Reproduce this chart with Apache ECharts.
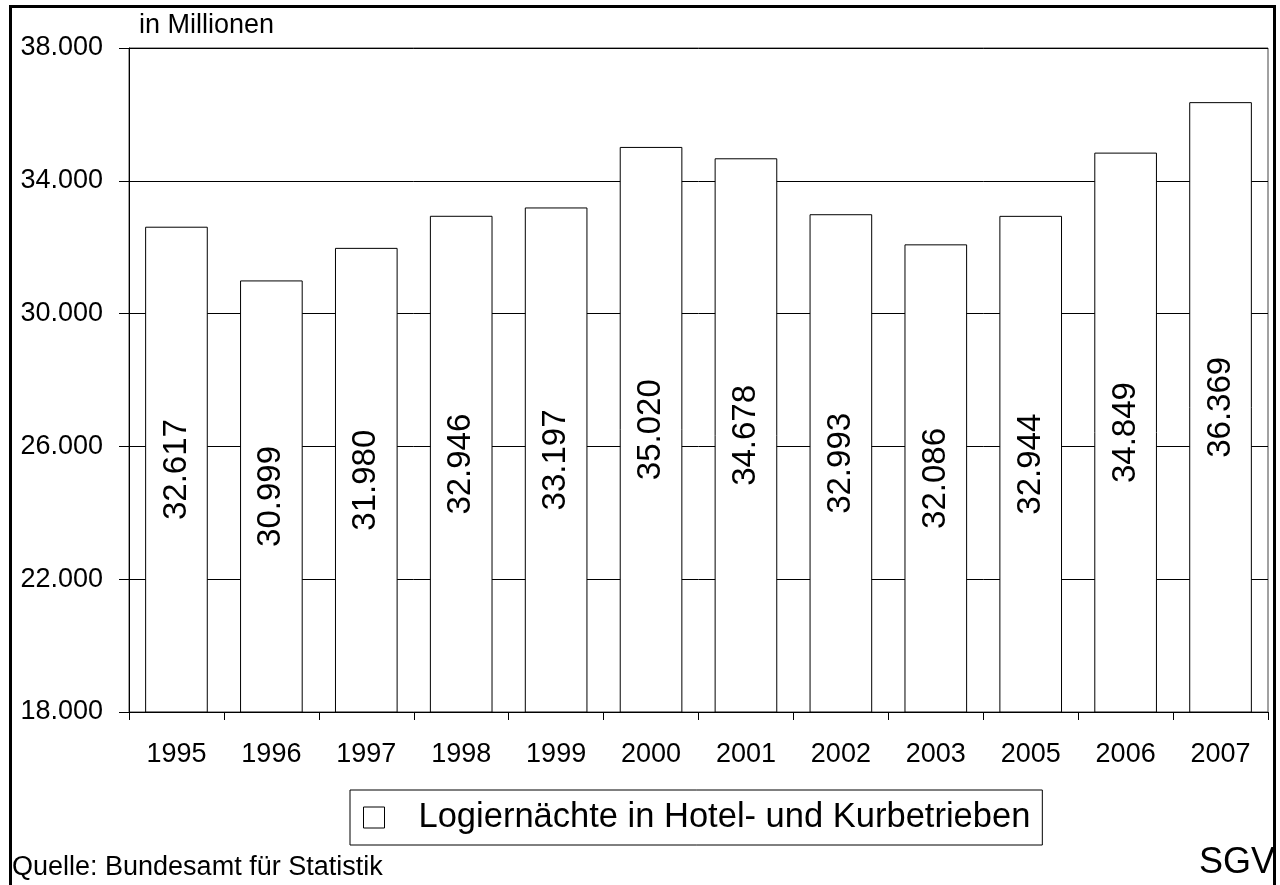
<!DOCTYPE html>
<html>
<head>
<meta charset="utf-8">
<script src="https://cdn.jsdelivr.net/npm/echarts@6/dist/echarts.min.js"></script>
<style>
html,body{margin:0;padding:0;background:#fff;}
#chart{width:1280px;height:885px;}
</style>
</head>
<body>
<div id="chart"></div>
<script>
const categories = ['1995','1996','1997','1998','1999','2000','2001','2002','2003','2005','2006','2007'];
const values = [32617, 30999, 31980, 32946, 33197, 35020, 34678, 32993, 32086, 32944, 34849, 36369];
const seriesName = 'Logiernächte in Hotel- und Kurbetrieben';
const unitLabel = 'in Millionen';
const sourceLabel = 'Quelle: Bundesamt für Statistik';
const brandLabel = 'SGV';

function fmt(v){ return String(v).replace(/\B(?=(\d{3})+(?!\d))/g, '.'); }

const FONT = '"Liberation Sans", Arial, sans-serif';
const chart = echarts.init(document.getElementById('chart'), null, {renderer:'canvas'});
chart.setOption({
  animation: false,
  backgroundColor: '#fff',
  textStyle: {fontFamily: FONT, color: '#000'},
  grid: {left: 129, top: 48, right: 12, bottom: 173, show: true, borderColor: '#444', borderWidth: 1, containLabel: false},
  title: {
    text: unitLabel, left: 134, top: 7,
    textStyle: {fontFamily: FONT, fontSize: 27, fontWeight: 'normal', color: '#000'}
  },
  legend: {
    data: [seriesName],
    left: 350, top: 790,
    orient: 'horizontal',
    borderColor: '#000', borderWidth: 1,
    padding: [10, 12, 10, 13],
    icon: 'rect', itemWidth: 21, itemHeight: 21,
    itemStyle: {color: '#fff', borderColor: '#000', borderWidth: 1},
    textStyle: {fontFamily: FONT, fontSize: 34.5, color: '#000', padding: [0, 0, 0, 29]},
    selectedMode: false
  },
  xAxis: {
    type: 'category',
    data: categories,
    axisLine: {lineStyle: {color: '#000', width: 1}},
    axisTick: {show: true, length: 8, lineStyle: {color: '#000'}},
    axisLabel: {fontFamily: FONT, fontSize: 27, color: '#000', margin: 29}
  },
  yAxis: {
    type: 'value', min: 18000, max: 38000, interval: 4000,
    axisLine: {show: true, lineStyle: {color: '#000', width: 1}},
    axisTick: {show: true, length: 10, lineStyle: {color: '#000'}},
    axisLabel: {fontFamily: FONT, fontSize: 27, color: '#000', margin: 26, formatter: fmt},
    splitLine: {show: true, lineStyle: {color: '#000', width: 1}}
  },
  series: [{
    name: seriesName,
    type: 'bar',
    data: values,
    barCategoryGap: '34%',
    itemStyle: {color: '#fff', borderColor: '#000', borderWidth: 1},
    label: {
      show: true, position: 'inside', rotate: 90,
      fontFamily: FONT, fontSize: 33, color: '#000',
      formatter: p => fmt(p.value)
    }
  }],
  graphic: [
    {type: 'text', left: 12, top: 854, style: {text: sourceLabel, font: '27px "Liberation Sans", Arial, sans-serif', fill: '#000'}},
    {type: 'text', left: 1199, top: 845, z: 10, style: {text: brandLabel, font: '36px "Liberation Sans", Arial, sans-serif', fill: '#000'}},
    {type: 'rect', z: 100, silent: true, shape: {x: 10.5, y: 6.5, width: 1264, height: 900}, style: {fill: 'none', stroke: '#000', lineWidth: 3}}
  ]
});
</script>
</body>
</html>
